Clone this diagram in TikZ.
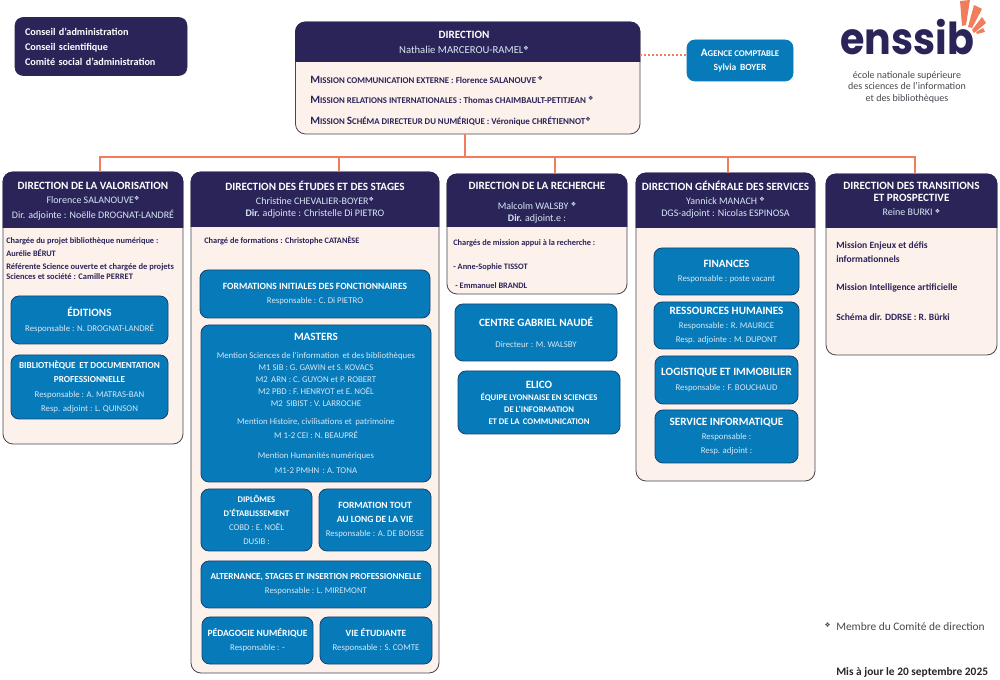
\documentclass[tikz,border=0pt]{standalone}
\usepackage{fontspec}
\usepackage{xcolor}
\setmainfont{Carlito}
\newfontfamily\symbfont{DejaVu Sans}
\newfontfamily\logofont{Poppins}

\definecolor{navy}{RGB}{43,36,89}
\definecolor{panelpink}{RGB}{253,241,236}
\definecolor{unitblue}{RGB}{7,122,186}
\definecolor{salmon}{RGB}{241,125,93}
\definecolor{edgegray}{RGB}{70,70,78}
\definecolor{unitedge}{RGB}{22,66,110}
\definecolor{palewhite}{RGB}{215,232,244}

\newcommand{\memb}{\raisebox{0.6ex}{\symbfont\fontsize{4.5}{5}\selectfont ❖}}
\newcommand{\capm}[1]{{\fontsize{8.4}{8}\selectfont #1}}
\newcommand{\smc}[1]{{\fontsize{6.6}{6}\selectfont #1}}
\newcommand{\unittitle}[1]{{\bfseries\color{white}\fontsize{7.15}{7}\selectfont #1}}
\newcommand{\unitsmall}[1]{{\bfseries\color{white}\fontsize{6.9}{7}\selectfont #1}}
\newcommand{\unitthin}[1]{{\bfseries\color{white}\fontsize{6.5}{7}\selectfont #1}}
\newcommand{\bigtitle}[1]{{\bfseries\color{white}\fontsize{8.35}{7}\selectfont #1}}
% header band of a panel, down to the given y
\newcommand{\headfill}[2]{\fill[navy] (#1.west |- 0,#2) [rounded corners=7.5pt] -- (#1.north west) -- (#1.north east) [sharp corners] -- (#1.east |- 0,#2) -- cycle;}

\tikzset{
  wd/.style={minimum width=#1*0.75pt},
  ht/.style={minimum height=#1*0.75pt},
  panelbox/.style={draw=edgegray,fill=panelpink,line width=0.6pt,rounded corners=7.5pt,inner sep=0pt},
  unitbox/.style={draw=unitedge,fill=unitblue,line width=0.6pt,rounded corners=6pt,inner sep=0pt,align=center,text=palewhite,font=\fontsize{6.6}{10.7}\selectfont,execute at begin node={\rule{0pt}{7.5pt}}},
  lowtext/.style={execute at begin node={\rule{0pt}{9.5pt}}},
  headtext/.style={inner sep=0pt,align=center,text=palewhite,font=\fontsize{7.5}{10.7}\selectfont},
  paneltext/.style={inner sep=0pt,anchor=west,align=left,text=navy,font=\bfseries\fontsize{6.25}{9.6}\selectfont},
  missiontext/.style={inner sep=0pt,anchor=west,align=left,text=navy,font=\bfseries\fontsize{7.2}{10.7}\selectfont},
  linkline/.style={draw=salmon,line width=1.7pt},
  dotline/.style={draw=salmon,line width=1.4pt,dash pattern=on 1.4pt off 1.6pt},
}

\begin{document}
\begin{tikzpicture}[x=0.75pt,y=0.75pt,yscale=-1,xscale=1]
\useasboundingbox (0,0) rectangle (1000,680);

%Councils
\node (conseils) [draw=navy,fill=navy,rounded corners=6pt,wd=172,ht=58,inner sep=0pt,text width=152*0.75pt,align=left,text=white,font=\bfseries\fontsize{7.65}{11.2}\selectfont] at (101,46.5) {Conseil d'administration\\Conseil scientifique\\Comité social d'administration};

%Direction
\node (direction) [panelbox,wd=344.5,ht=112] at (467.75,78) {};
\headfill{direction}{62}
\node (directionhead) [headtext,font=\fontsize{8}{10.7}\selectfont] at (464,42.5) {\bigtitle{DIRECTION}\\Nathalie MARCEROU-RAMEL\memb};
\node (missioncom) [paneltext,font=\bfseries\fontsize{6.75}{9.6}\selectfont] at (310,80) {\capm{M}\smc{ISSION COMMUNICATION EXTERNE} : Florence SALANOUVE\,\memb};
\node (missionrel) [paneltext,font=\bfseries\fontsize{6.75}{9.6}\selectfont] at (310,100) {\capm{M}\smc{ISSION RELATIONS INTERNATIONALES} : Thomas CHAIMBAULT-PETITJEAN \memb};
\node (missionschema) [paneltext,font=\bfseries\fontsize{6.75}{9.6}\selectfont] at (310,121) {\capm{M}\smc{ISSION} \capm{S}\smc{CHÉMA DIRECTEUR DU NUMÉRIQUE} : Véronique CHRÉTIENNOT\memb};

%Agence
\node (agence) [unitbox,draw=unitblue,wd=106,ht=41,text=white,font=\fontsize{7.1}{10.7}\selectfont] at (740,60.5) {\bfseries \capm{A}\smc{GENCE COMPTABLE}\\\bfseries Sylvia\, BOYER};
\draw [dotline] (direction.east |- 0,55) -- (agence.west |- 0,55);

%Logo
\node (logoword) [inner sep=0pt,anchor=base west,text=navy,font=\logofont\bfseries\fontsize{33}{33}\selectfont] at (840,55) {\scalebox{0.9}[1]{enssib}};
\fill [salmon] (960,1) -- (970,0) -- (966,25) -- (962,26) -- cycle;
\fill [salmon] (974,5) -- (982,9) -- (972,28) -- (968,27) -- cycle;
\fill [salmon] (982,17) -- (986,23) -- (974,33) -- (972,30) -- cycle;
\fill [salmon] (983,28) -- (985,32) -- (977,34) -- (976,32) -- cycle;
\node (logotext) [inner sep=0pt,align=center,text=edgegray,font=\fontsize{7.5}{8.6}\selectfont] at (907,87) {école nationale supérieure\\des sciences de l'information\\et des bibliothèques};

%Panels
\node (valo) [panelbox,wd=180,ht=272] at (93,308) {};
\headfill{valo}{228}
\node (valohead) [headtext] at (93,201) {\bigtitle{DIRECTION DE LA VALORISATION}\\Florence SALANOUVE\memb\\Dir. adjointe : Noëlle DROGNAT-LANDRÉ};

\node (etudes) [panelbox,wd=248,ht=501] at (315,422.5) {};
\headfill{etudes}{227}
\node (etudeshead) [headtext] at (315,199.5) {\bigtitle{DIRECTION DES ÉTUDES ET DES STAGES}\\Christine CHEVALIER-BOYER\memb\\[-2pt]\textbf{Dir.} adjointe : Christelle Di PIETRO};

\node (recherche) [panelbox,wd=180,ht=120] at (537,234) {};
\headfill{recherche}{227}
\node (recherchehead) [headtext] at (537,202.5) {\bigtitle{DIRECTION DE LA RECHERCHE}\\[4.3pt]Malcolm WALSBY \memb\\[-1.7pt]\textbf{Dir.} adjoint.e :};

\node (dgs) [panelbox,wd=179,ht=308] at (725.5,327) {};
\headfill{dgs}{228}
\node (dgshead) [headtext] at (725.5,199.5) {\bigtitle{DIRECTION GÉNÉRALE DES SERVICES}\\Yannick MANACH \memb\\[-2pt]DGS-adjoint : Nicolas ESPINOSA};

\node (transitions) [panelbox,wd=171,ht=181] at (911.5,264.5) {};
\headfill{transitions}{228}
\node (transitionshead) [headtext,font=\fontsize{7.5}{9}\selectfont] at (911.5,199) {\bigtitle{DIRECTION DES TRANSITIONS}\\\bigtitle{ET PROSPECTIVE}\\[2pt]Reine BURKI \memb};

%Connectors
\coordinate (dirfoot) at (465,134);
\coordinate (hub) at (465,157);
\coordinate (valotop) at (100,172);
\coordinate (etudestop) at (339,172);
\coordinate (recherchetop) at (555,174);
\coordinate (dgstop) at (728,173);
\coordinate (transitionstop) at (915,174);
\draw [linkline] (dirfoot) -- (hub);
\draw [linkline] (hub) -| (valotop);
\draw [linkline] (hub) -| (etudestop);
\draw [linkline] (hub) -| (recherchetop);
\draw [linkline] (hub) -| (dgstop);
\draw [linkline] (hub) -| (transitionstop);

%Valorisation
\node (valobib) [paneltext] at (6,247.5) {Chargée du projet bibliothèque numérique :\\Aurélie BÉRUT};
\node (valoscience) [paneltext,font=\bfseries\fontsize{6.35}{7.2}\selectfont] at (6,271.5) {Référente Science ouverte et chargée de projets\\Sciences et société : Camille PERRET};
\node (editions) [unitbox,wd=157,ht=48] at (89.5,320) {\bigtitle{ÉDITIONS}\\Responsable : N. DROGNAT-LANDRÉ};
\node (biblio) [unitbox,wd=157,ht=64] at (89.5,387) {\unitsmall{BIBLIOTHÈQUE\, ET DOCUMENTATION}\\\unitsmall{PROFESSIONNELLE}\\Responsable : A. MATRAS-BAN\\Resp. adjoint : L. QUINSON};

%Etudes
\node (catanese) [paneltext] at (204,241) {Chargé de formations : Christophe CATANÈSE};
\node (fonctionnaires) [unitbox,lowtext,wd=230,ht=48] at (315,294) {\unittitle{FORMATIONS INITIALES DES FONCTIONNAIRES}\\Responsable : C. Di PIETRO};
\node (masters) [unitbox,lowtext,wd=230,ht=157,font=\fontsize{6.6}{9}\selectfont] at (316,403.5) {\bigtitle{MASTERS}\\[5pt]Mention Sciences de l'information\, et des bibliothèques\\M1 SIB : G. GAWIN et S. KOVACS\\M2\, ARN : C. GUYON et P. ROBERT\\M2 PBD : F. HENRYOT et E. NOËL\\M2\, SIBIST : V. LARROCHE\\[3.8pt]Mention Histoire, civilisations et\, patrimoine\\[2.2pt]M 1-2 CEI : N. BEAUPRÉ\\[6pt]Mention Humanités numériques\\[2.2pt]M1-2 PMHN\, : A. TONA};
\node (diplomes) [unitbox,wd=111,ht=62] at (256.5,520) {\unitthin{DIPLÔMES}\\\unitthin{D'ÉTABLISSEMENT}\\COBD : E. NOËL\\DUSIB :};
\node (toutlavie) [unitbox,wd=112,ht=62] at (375,520) {\unittitle{FORMATION TOUT}\\\unittitle{AU LONG DE LA VIE}\\Responsable : A. DE BOISSE};
\node (alternance) [unitbox,lowtext,wd=230,ht=47] at (316,584.5) {\unitsmall{ALTERNANCE, STAGES ET INSERTION PROFESSIONNELLE}\\Responsable : L. MIREMONT};
\node (pedagogie) [unitbox,wd=111,ht=47] at (257.5,640.5) {\unittitle{PÉDAGOGIE NUMÉRIQUE}\\Responsable : -};
\node (vie) [unitbox,wd=112,ht=47] at (376,640.5) {\unittitle{VIE ÉTUDIANTE}\\Responsable : S. COMTE};

%Recherche
\node (chargesappui) [paneltext] at (453,243) {Chargés de mission appui à la recherche :};
\node (tissot) [paneltext] at (453,267) {- Anne-Sophie TISSOT};
\node (brandl) [paneltext] at (455,285.5) {- Emmanuel BRANDL};
\node (naude) [unitbox,wd=162,ht=57] at (536,332.5) {\bigtitle{CENTRE GABRIEL NAUDÉ}\\[5pt]Directeur : M. WALSBY};
\node (elico) [unitbox,wd=162,ht=63,font=\fontsize{6.6}{9}\selectfont] at (539,402.5) {\bigtitle{ELICO}\\\unitthin{ÉQUIPE LYONNAISE EN SCIENCES}\\\unitthin{DE L'INFORMATION}\\\unitthin{ET DE LA\, COMMUNICATION}};

%Services
\node (finances) [unitbox,wd=145,ht=47] at (726.5,271.5) {\bigtitle{FINANCES}\\Responsable : poste vacant};
\node (rh) [unitbox,wd=145,ht=47] at (726.5,325.5) {\bigtitle{RESSOURCES HUMAINES}\\Responsable : R. MAURICE\\Resp. adjointe : M. DUPONT};
\node (logistique) [unitbox,wd=143,ht=48] at (726.5,380) {\bigtitle{LOGISTIQUE ET IMMOBILIER}\\Responsable : F. BOUCHAUD};
\node (informatique) [unitbox,wd=143,ht=53] at (726.5,436.5) {\bigtitle{SERVICE INFORMATIQUE}\\Responsable :\\Resp. adjoint :};

%Transitions
\node (enjeux) [missiontext] at (836,252) {Mission Enjeux et défis\\informationnels};
\node (ia) [missiontext] at (836,288) {Mission Intelligence artificielle};
\node (ddrse) [missiontext] at (836,317) {Schéma dir. DDRSE : R. Bürki};

%Legend
\node (legendmark) [inner sep=0pt,text=edgegray,font=\symbfont\fontsize{5}{5}\selectfont] at (827.5,625) {❖};
\node (legendtext) [inner sep=0pt,anchor=west,text=edgegray,font=\fontsize{8.55}{10}\selectfont] at (836,627) {Membre du Comité de direction};
\node (updated) [inner sep=0pt,anchor=west,text=black!85,font=\bfseries\fontsize{8.55}{10}\selectfont] at (836,672) {Mis à jour le 20 septembre 2025};

\end{tikzpicture}
\end{document}
